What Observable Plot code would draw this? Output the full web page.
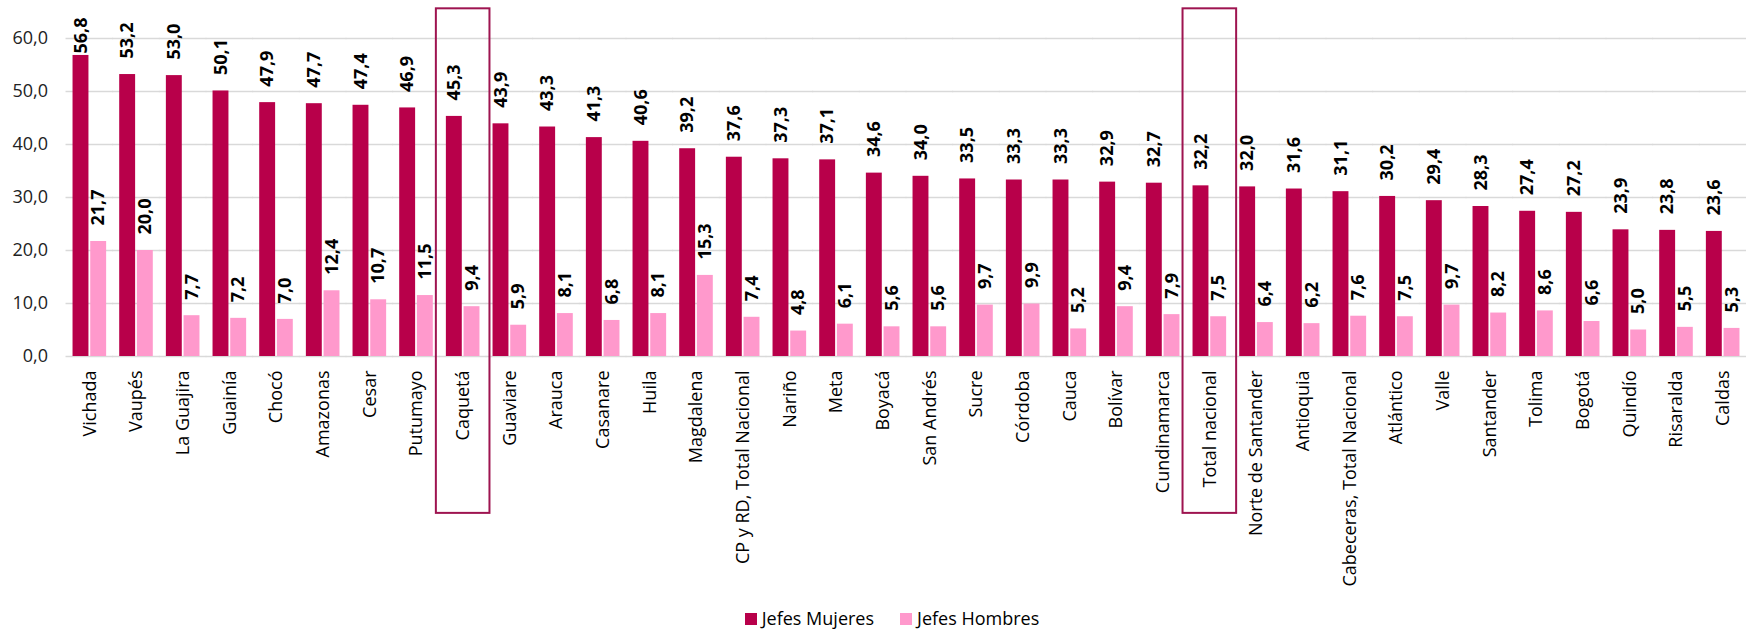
<!DOCTYPE html>
<html>
<head>
<meta charset="utf-8">
<script src="https://cdn.jsdelivr.net/npm/d3@7"></script>
<script src="https://cdn.jsdelivr.net/npm/@observablehq/plot@0.6"></script>
<style>
  html, body { margin: 0; padding: 0; background: #fff; }
  body { position: relative; width: 1746px; height: 630px; overflow: hidden; }
  #chart { width: 1746px; }
  #legend { position: absolute; left: 0; top: 606px; width: 1746px; height: 26px; display: flex; align-items: center; justify-content: center; padding-left: 64px; box-sizing: border-box; }
  #legend > * { margin: 0 !important; min-height: 0 !important; }
  .lg-swatch { margin-right: 26px !important; color: #000; line-height: 1.2; }
  .lg-swatch svg { margin-right: 5px !important; }
</style>
</head>
<body>
<div id="chart"></div>
<div id="legend"></div>
<script>
const categories = ["Vichada", "Vaupés", "La Guajira", "Guainía", "Chocó", "Amazonas", "Cesar", "Putumayo", "Caquetá", "Guaviare", "Arauca", "Casanare", "Huila", "Magdalena", "CP y RD, Total Nacional", "Nariño", "Meta", "Boyacá", "San Andrés", "Sucre", "Córdoba", "Cauca", "Bolívar", "Cundinamarca", "Total nacional", "Norte de Santander", "Antioquia", "Cabeceras, Total Nacional", "Atlántico", "Valle", "Santander", "Tolima", "Bogotá", "Quindío", "Risaralda", "Caldas"];
const jefesMujeres = [56.8, 53.2, 53.0, 50.1, 47.9, 47.7, 47.4, 46.9, 45.3, 43.9, 43.3, 41.3, 40.6, 39.2, 37.6, 37.3, 37.1, 34.6, 34.0, 33.5, 33.3, 33.3, 32.9, 32.7, 32.2, 32.0, 31.6, 31.1, 30.2, 29.4, 28.3, 27.4, 27.2, 23.9, 23.8, 23.6];
const jefesHombres = [21.7, 20.0, 7.7, 7.2, 7.0, 12.4, 10.7, 11.5, 9.4, 5.9, 8.1, 6.8, 8.1, 15.3, 7.4, 4.8, 6.1, 5.6, 5.6, 9.7, 9.9, 5.2, 9.4, 7.9, 7.5, 6.4, 6.2, 7.6, 7.5, 9.7, 8.2, 8.6, 6.6, 5.0, 5.5, 5.3];
const series = ["Jefes Mujeres", "Jefes Hombres"];
const colors = ["#B8004A", "#FF99CC"];
const yTicks = [0, 10, 20, 30, 40, 50, 60];
const highlighted = ["Caquetá", "Total nacional"];
const boxTop = 65.6;      // highlight box extent, in data units
const boxBottom = -29.6;

const fmt = v => d3.format(".1f")(v).replace(".", ",");

const rows = categories.flatMap((c, i) => [
  {cat: c, serie: series[0], value: jefesMujeres[i]},
  {cat: c, serie: series[1], value: jefesHombres[i]}
]);
const boxes = highlighted.map(c => ({cat: c}));

const font = "'Open Sans', 'Noto Sans', sans-serif";

const chart = Plot.plot({
  width: 1746,
  height: 600,
  marginLeft: 66,
  marginRight: 0,
  marginTop: 38,
  marginBottom: 244,
  style: {fontFamily: font, fontSize: "18px", color: "#000", background: "#fff", overflow: "visible"},
  fx: {domain: categories, paddingInner: 0.28, paddingOuter: 0.14, round: false, label: null},
  x: {domain: series, paddingInner: 0.1, paddingOuter: 0, round: false, axis: null},
  y: {domain: [0, 60], label: null, axis: null},
  color: {domain: series, range: colors},
  marks: [
    Plot.ruleY(yTicks, {stroke: "#d9d9d9", strokeWidth: 1.5, insetLeft: -7, insetRight: -7}),
    Plot.barY(rows, {fx: "cat", x: "serie", y: "value", fill: "serie"}),
    Plot.text(rows.filter(d => d.value < 55), {fx: "cat", x: "serie", y: "value", text: d => fmt(d.value), rotate: -90, textAnchor: "start", dy: -16, fontWeight: "bold", fontSize: 18, fill: "#000"}),
    Plot.text(rows.filter(d => d.value >= 55), {fx: "cat", x: "serie", y: "value", text: d => fmt(d.value), rotate: -90, textAnchor: "start", dy: -2, fontWeight: "bold", fontSize: 18, fill: "#000"}),
    Plot.rect(boxes, {fx: "cat", y1: boxTop, y2: boxBottom, fill: "none", stroke: "#9E1450", strokeWidth: 2, insetLeft: -10, insetRight: -10}),
    Plot.axisY({ticks: yTicks, tickFormat: fmt, tickSize: 0, tickPadding: 25, fontSize: 18, fill: "#222", label: null}),
    Plot.axisFx({anchor: "bottom", tickRotate: -90, tickSize: 0, tickPadding: 14, fontSize: 18, label: null, fill: "#000"})
  ]
});
document.getElementById("chart").append(chart);

const legend = Plot.legend({
  color: {type: "categorical", domain: series, range: colors},
  legend: "swatches",
  swatchSize: 12,
  className: "lg",
  style: {fontFamily: font, fontSize: "18px", color: "#000"}
});
document.getElementById("legend").append(legend);
</script>
</body>
</html>
